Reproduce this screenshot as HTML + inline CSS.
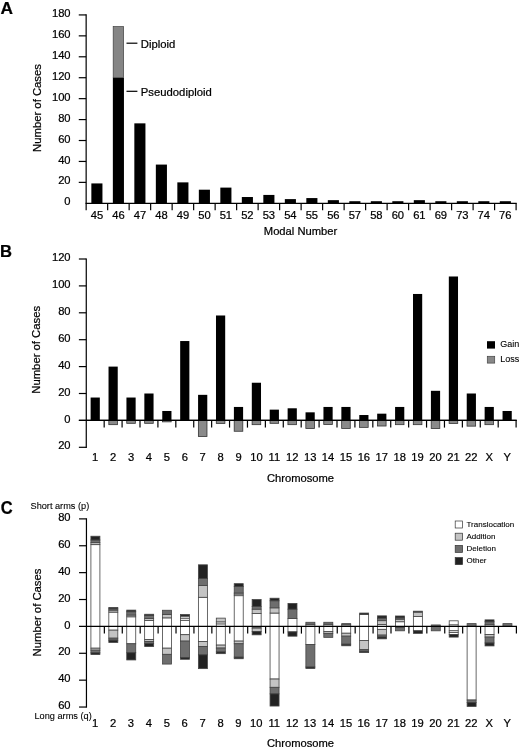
<!DOCTYPE html>
<html><head><meta charset="utf-8"><title>Figure</title>
<style>
html,body{margin:0;padding:0;background:#fff}
svg{display:block}
text{font-family:"Liberation Sans",Arial,Helvetica,sans-serif;fill:#000;stroke:#000;stroke-width:0.22px}
text.sm{stroke-width:0.1px}
</style></head><body>
<svg width="520" height="748" viewBox="0 0 520 748">
<g><rect width="520" height="748" fill="#fff"/>
<line x1="86.15" y1="14.33" x2="86.15" y2="210.2" stroke="#000" stroke-width="1.2"/>
<line x1="85.55" y1="203.3" x2="516.7" y2="203.3" stroke="#000" stroke-width="1.2"/>
<text x="70.6" y="205.4" font-size="11.2" text-anchor="end">0</text>
<line x1="78.75" y1="182.37" x2="86.15" y2="182.37" stroke="#000" stroke-width="1.2"/>
<text x="70.6" y="184.47" font-size="11.2" text-anchor="end">20</text>
<line x1="78.75" y1="161.44" x2="86.15" y2="161.44" stroke="#000" stroke-width="1.2"/>
<text x="70.6" y="163.54" font-size="11.2" text-anchor="end">40</text>
<line x1="78.75" y1="140.51" x2="86.15" y2="140.51" stroke="#000" stroke-width="1.2"/>
<text x="70.6" y="142.61" font-size="11.2" text-anchor="end">60</text>
<line x1="78.75" y1="119.58" x2="86.15" y2="119.58" stroke="#000" stroke-width="1.2"/>
<text x="70.6" y="121.68" font-size="11.2" text-anchor="end">80</text>
<line x1="78.75" y1="98.65" x2="86.15" y2="98.65" stroke="#000" stroke-width="1.2"/>
<text x="70.6" y="100.75" font-size="11.2" text-anchor="end">100</text>
<line x1="78.75" y1="77.72" x2="86.15" y2="77.72" stroke="#000" stroke-width="1.2"/>
<text x="70.6" y="79.82" font-size="11.2" text-anchor="end">120</text>
<line x1="78.75" y1="56.79" x2="86.15" y2="56.79" stroke="#000" stroke-width="1.2"/>
<text x="70.6" y="58.89" font-size="11.2" text-anchor="end">140</text>
<line x1="78.75" y1="35.86" x2="86.15" y2="35.86" stroke="#000" stroke-width="1.2"/>
<text x="70.6" y="37.96" font-size="11.2" text-anchor="end">160</text>
<line x1="78.75" y1="14.93" x2="86.15" y2="14.93" stroke="#000" stroke-width="1.2"/>
<text x="70.6" y="17.03" font-size="11.2" text-anchor="end">180</text>
<line x1="107.65" y1="203.3" x2="107.65" y2="210.2" stroke="#000" stroke-width="1.2"/>
<line x1="129.15" y1="203.3" x2="129.15" y2="210.2" stroke="#000" stroke-width="1.2"/>
<line x1="150.64" y1="203.3" x2="150.64" y2="210.2" stroke="#000" stroke-width="1.2"/>
<line x1="172.14" y1="203.3" x2="172.14" y2="210.2" stroke="#000" stroke-width="1.2"/>
<line x1="193.64" y1="203.3" x2="193.64" y2="210.2" stroke="#000" stroke-width="1.2"/>
<line x1="215.14" y1="203.3" x2="215.14" y2="210.2" stroke="#000" stroke-width="1.2"/>
<line x1="236.63" y1="203.3" x2="236.63" y2="210.2" stroke="#000" stroke-width="1.2"/>
<line x1="258.13" y1="203.3" x2="258.13" y2="210.2" stroke="#000" stroke-width="1.2"/>
<line x1="279.63" y1="203.3" x2="279.63" y2="210.2" stroke="#000" stroke-width="1.2"/>
<line x1="301.12" y1="203.3" x2="301.12" y2="210.2" stroke="#000" stroke-width="1.2"/>
<line x1="322.62" y1="203.3" x2="322.62" y2="210.2" stroke="#000" stroke-width="1.2"/>
<line x1="344.12" y1="203.3" x2="344.12" y2="210.2" stroke="#000" stroke-width="1.2"/>
<line x1="365.62" y1="203.3" x2="365.62" y2="210.2" stroke="#000" stroke-width="1.2"/>
<line x1="387.12" y1="203.3" x2="387.12" y2="210.2" stroke="#000" stroke-width="1.2"/>
<line x1="408.61" y1="203.3" x2="408.61" y2="210.2" stroke="#000" stroke-width="1.2"/>
<line x1="430.11" y1="203.3" x2="430.11" y2="210.2" stroke="#000" stroke-width="1.2"/>
<line x1="451.61" y1="203.3" x2="451.61" y2="210.2" stroke="#000" stroke-width="1.2"/>
<line x1="473.11" y1="203.3" x2="473.11" y2="210.2" stroke="#000" stroke-width="1.2"/>
<line x1="494.6" y1="203.3" x2="494.6" y2="210.2" stroke="#000" stroke-width="1.2"/>
<line x1="516.1" y1="203.3" x2="516.1" y2="210.2" stroke="#000" stroke-width="1.2"/>
<rect x="91.35" y="183.42" width="11.1" height="19.88" fill="#000"/>
<text x="96.9" y="218.6" font-size="11.2" text-anchor="middle">45</text>
<rect x="112.85" y="77.72" width="11.1" height="125.58" fill="#000"/>
<rect x="113.15" y="26.44" width="10.5" height="51.28" fill="#858585" stroke="#333" stroke-width="0.6"/>
<text x="118.4" y="218.6" font-size="11.2" text-anchor="middle">46</text>
<rect x="134.34" y="123.35" width="11.1" height="79.95" fill="#000"/>
<text x="139.89" y="218.6" font-size="11.2" text-anchor="middle">47</text>
<rect x="155.84" y="164.58" width="11.1" height="38.72" fill="#000"/>
<text x="161.39" y="218.6" font-size="11.2" text-anchor="middle">48</text>
<rect x="177.34" y="182.37" width="11.1" height="20.93" fill="#000"/>
<text x="182.89" y="218.6" font-size="11.2" text-anchor="middle">49</text>
<rect x="198.84" y="189.7" width="11.1" height="13.6" fill="#000"/>
<text x="204.39" y="218.6" font-size="11.2" text-anchor="middle">50</text>
<rect x="220.33" y="187.6" width="11.1" height="15.7" fill="#000"/>
<text x="225.88" y="218.6" font-size="11.2" text-anchor="middle">51</text>
<rect x="241.83" y="197.02" width="11.1" height="6.28" fill="#000"/>
<text x="247.38" y="218.6" font-size="11.2" text-anchor="middle">52</text>
<rect x="263.33" y="194.93" width="11.1" height="8.37" fill="#000"/>
<text x="268.88" y="218.6" font-size="11.2" text-anchor="middle">53</text>
<rect x="284.83" y="199.11" width="11.1" height="4.19" fill="#000"/>
<text x="290.38" y="218.6" font-size="11.2" text-anchor="middle">54</text>
<rect x="306.32" y="198.07" width="11.1" height="5.23" fill="#000"/>
<text x="311.87" y="218.6" font-size="11.2" text-anchor="middle">55</text>
<rect x="327.82" y="200.16" width="11.1" height="3.14" fill="#000"/>
<text x="333.37" y="218.6" font-size="11.2" text-anchor="middle">56</text>
<rect x="349.32" y="201.21" width="11.1" height="2.09" fill="#000"/>
<text x="354.87" y="218.6" font-size="11.2" text-anchor="middle">57</text>
<rect x="370.82" y="201.21" width="11.1" height="2.09" fill="#000"/>
<text x="376.37" y="218.6" font-size="11.2" text-anchor="middle">58</text>
<rect x="392.31" y="201.21" width="11.1" height="2.09" fill="#000"/>
<text x="397.86" y="218.6" font-size="11.2" text-anchor="middle">60</text>
<rect x="413.81" y="200.16" width="11.1" height="3.14" fill="#000"/>
<text x="419.36" y="218.6" font-size="11.2" text-anchor="middle">61</text>
<rect x="435.31" y="201.21" width="11.1" height="2.09" fill="#000"/>
<text x="440.86" y="218.6" font-size="11.2" text-anchor="middle">69</text>
<rect x="456.81" y="201.21" width="11.1" height="2.09" fill="#000"/>
<text x="462.36" y="218.6" font-size="11.2" text-anchor="middle">73</text>
<rect x="478.3" y="201.21" width="11.1" height="2.09" fill="#000"/>
<text x="483.85" y="218.6" font-size="11.2" text-anchor="middle">74</text>
<rect x="499.8" y="201.21" width="11.1" height="2.09" fill="#000"/>
<text x="505.35" y="218.6" font-size="11.2" text-anchor="middle">76</text>
<line x1="126.5" y1="43.2" x2="137.4" y2="43.2" stroke="#000" stroke-width="1.2"/>
<text x="140.8" y="47.5" font-size="11.3" text-anchor="start">Diploid</text>
<line x1="126.5" y1="91.3" x2="137.4" y2="91.3" stroke="#000" stroke-width="1.2"/>
<text x="140.8" y="95.5" font-size="11.3" text-anchor="start">Pseudodiploid</text>
<text x="300.5" y="235.4" font-size="11.2" text-anchor="middle">Modal Number</text>
<text x="40.5" y="108" font-size="11.3" text-anchor="middle" transform="rotate(-90 40.5 108)">Number of Cases</text>
<text x="0.5" y="13.95" font-size="17.3" text-anchor="start" font-weight="bold">A</text>
<line x1="86.27" y1="258.4" x2="86.27" y2="447.9" stroke="#000" stroke-width="1.2"/>
<line x1="78.87" y1="420.4" x2="516.7" y2="420.4" stroke="#000" stroke-width="1.2"/>
<line x1="78.87" y1="447.3" x2="86.27" y2="447.3" stroke="#000" stroke-width="1.2"/>
<text x="70.6" y="449.4" font-size="11.2" text-anchor="end">20</text>
<text x="70.6" y="422.5" font-size="11.2" text-anchor="end">0</text>
<line x1="78.87" y1="393.5" x2="86.27" y2="393.5" stroke="#000" stroke-width="1.2"/>
<text x="70.6" y="395.6" font-size="11.2" text-anchor="end">20</text>
<line x1="78.87" y1="366.6" x2="86.27" y2="366.6" stroke="#000" stroke-width="1.2"/>
<text x="70.6" y="368.7" font-size="11.2" text-anchor="end">40</text>
<line x1="78.87" y1="339.7" x2="86.27" y2="339.7" stroke="#000" stroke-width="1.2"/>
<text x="70.6" y="341.8" font-size="11.2" text-anchor="end">60</text>
<line x1="78.87" y1="312.8" x2="86.27" y2="312.8" stroke="#000" stroke-width="1.2"/>
<text x="70.6" y="314.9" font-size="11.2" text-anchor="end">80</text>
<line x1="78.87" y1="285.9" x2="86.27" y2="285.9" stroke="#000" stroke-width="1.2"/>
<text x="70.6" y="288" font-size="11.2" text-anchor="end">100</text>
<line x1="78.87" y1="259" x2="86.27" y2="259" stroke="#000" stroke-width="1.2"/>
<text x="70.6" y="261.1" font-size="11.2" text-anchor="end">120</text>
<line x1="104.18" y1="420.4" x2="104.18" y2="427.6" stroke="#000" stroke-width="1.2"/>
<line x1="122.09" y1="420.4" x2="122.09" y2="427.6" stroke="#000" stroke-width="1.2"/>
<line x1="140" y1="420.4" x2="140" y2="427.6" stroke="#000" stroke-width="1.2"/>
<line x1="157.91" y1="420.4" x2="157.91" y2="427.6" stroke="#000" stroke-width="1.2"/>
<line x1="175.82" y1="420.4" x2="175.82" y2="427.6" stroke="#000" stroke-width="1.2"/>
<line x1="193.73" y1="420.4" x2="193.73" y2="427.6" stroke="#000" stroke-width="1.2"/>
<line x1="211.64" y1="420.4" x2="211.64" y2="427.6" stroke="#000" stroke-width="1.2"/>
<line x1="229.55" y1="420.4" x2="229.55" y2="427.6" stroke="#000" stroke-width="1.2"/>
<line x1="247.46" y1="420.4" x2="247.46" y2="427.6" stroke="#000" stroke-width="1.2"/>
<line x1="265.37" y1="420.4" x2="265.37" y2="427.6" stroke="#000" stroke-width="1.2"/>
<line x1="283.28" y1="420.4" x2="283.28" y2="427.6" stroke="#000" stroke-width="1.2"/>
<line x1="301.19" y1="420.4" x2="301.19" y2="427.6" stroke="#000" stroke-width="1.2"/>
<line x1="319.09" y1="420.4" x2="319.09" y2="427.6" stroke="#000" stroke-width="1.2"/>
<line x1="337" y1="420.4" x2="337" y2="427.6" stroke="#000" stroke-width="1.2"/>
<line x1="354.91" y1="420.4" x2="354.91" y2="427.6" stroke="#000" stroke-width="1.2"/>
<line x1="372.82" y1="420.4" x2="372.82" y2="427.6" stroke="#000" stroke-width="1.2"/>
<line x1="390.73" y1="420.4" x2="390.73" y2="427.6" stroke="#000" stroke-width="1.2"/>
<line x1="408.64" y1="420.4" x2="408.64" y2="427.6" stroke="#000" stroke-width="1.2"/>
<line x1="426.55" y1="420.4" x2="426.55" y2="427.6" stroke="#000" stroke-width="1.2"/>
<line x1="444.46" y1="420.4" x2="444.46" y2="427.6" stroke="#000" stroke-width="1.2"/>
<line x1="462.37" y1="420.4" x2="462.37" y2="427.6" stroke="#000" stroke-width="1.2"/>
<line x1="480.28" y1="420.4" x2="480.28" y2="427.6" stroke="#000" stroke-width="1.2"/>
<line x1="498.19" y1="420.4" x2="498.19" y2="427.6" stroke="#000" stroke-width="1.2"/>
<line x1="516.1" y1="420.4" x2="516.1" y2="427.6" stroke="#000" stroke-width="1.2"/>
<rect x="90.62" y="397.53" width="9.2" height="23.36" fill="#000"/>
<text x="95.22" y="460.6" font-size="11.2" text-anchor="middle">1</text>
<rect x="108.83" y="420.4" width="8.6" height="4.27" fill="#8a8a8a" stroke="#333" stroke-width="0.8"/>
<rect x="108.53" y="366.6" width="9.2" height="54.3" fill="#000"/>
<text x="113.13" y="460.6" font-size="11.2" text-anchor="middle">2</text>
<rect x="126.74" y="420.4" width="8.6" height="2.93" fill="#8a8a8a" stroke="#333" stroke-width="0.8"/>
<rect x="126.44" y="397.53" width="9.2" height="23.36" fill="#000"/>
<text x="131.04" y="460.6" font-size="11.2" text-anchor="middle">3</text>
<rect x="144.65" y="420.4" width="8.6" height="2.93" fill="#8a8a8a" stroke="#333" stroke-width="0.8"/>
<rect x="144.35" y="393.5" width="9.2" height="27.4" fill="#000"/>
<text x="148.95" y="460.6" font-size="11.2" text-anchor="middle">4</text>
<rect x="162.56" y="420.4" width="8.6" height="1.45" fill="#8a8a8a" stroke="#333" stroke-width="0.8"/>
<rect x="162.26" y="410.98" width="9.2" height="9.91" fill="#000"/>
<text x="166.86" y="460.6" font-size="11.2" text-anchor="middle">5</text>
<rect x="180.17" y="341.04" width="9.2" height="79.86" fill="#000"/>
<text x="184.77" y="460.6" font-size="11.2" text-anchor="middle">6</text>
<rect x="198.38" y="420.4" width="8.6" height="16.11" fill="#8a8a8a" stroke="#333" stroke-width="0.8"/>
<rect x="198.08" y="394.84" width="9.2" height="26.05" fill="#000"/>
<text x="202.68" y="460.6" font-size="11.2" text-anchor="middle">7</text>
<rect x="216.29" y="420.4" width="8.6" height="3.06" fill="#8a8a8a" stroke="#333" stroke-width="0.8"/>
<rect x="215.99" y="315.49" width="9.2" height="105.41" fill="#000"/>
<text x="220.59" y="460.6" font-size="11.2" text-anchor="middle">8</text>
<rect x="234.2" y="420.4" width="8.6" height="10.86" fill="#8a8a8a" stroke="#333" stroke-width="0.8"/>
<rect x="233.9" y="406.95" width="9.2" height="13.95" fill="#000"/>
<text x="238.5" y="460.6" font-size="11.2" text-anchor="middle">9</text>
<rect x="252.11" y="420.4" width="8.6" height="4.27" fill="#8a8a8a" stroke="#333" stroke-width="0.8"/>
<rect x="251.81" y="382.74" width="9.2" height="38.16" fill="#000"/>
<text x="256.41" y="460.6" font-size="11.2" text-anchor="middle">10</text>
<rect x="270.02" y="420.4" width="8.6" height="2.93" fill="#8a8a8a" stroke="#333" stroke-width="0.8"/>
<rect x="269.72" y="409.64" width="9.2" height="11.26" fill="#000"/>
<text x="274.32" y="460.6" font-size="11.2" text-anchor="middle">11</text>
<rect x="287.93" y="420.4" width="8.6" height="4.27" fill="#8a8a8a" stroke="#333" stroke-width="0.8"/>
<rect x="287.63" y="408.29" width="9.2" height="12.61" fill="#000"/>
<text x="292.23" y="460.6" font-size="11.2" text-anchor="middle">12</text>
<rect x="305.84" y="420.4" width="8.6" height="8.17" fill="#8a8a8a" stroke="#333" stroke-width="0.8"/>
<rect x="305.54" y="412.33" width="9.2" height="8.57" fill="#000"/>
<text x="310.14" y="460.6" font-size="11.2" text-anchor="middle">13</text>
<rect x="323.75" y="420.4" width="8.6" height="4.14" fill="#8a8a8a" stroke="#333" stroke-width="0.8"/>
<rect x="323.45" y="406.95" width="9.2" height="13.95" fill="#000"/>
<text x="328.05" y="460.6" font-size="11.2" text-anchor="middle">14</text>
<rect x="341.66" y="420.4" width="8.6" height="8.04" fill="#8a8a8a" stroke="#333" stroke-width="0.8"/>
<rect x="341.36" y="406.95" width="9.2" height="13.95" fill="#000"/>
<text x="345.96" y="460.6" font-size="11.2" text-anchor="middle">15</text>
<rect x="359.57" y="420.4" width="8.6" height="6.96" fill="#8a8a8a" stroke="#333" stroke-width="0.8"/>
<rect x="359.27" y="415.02" width="9.2" height="5.88" fill="#000"/>
<text x="363.87" y="460.6" font-size="11.2" text-anchor="middle">16</text>
<rect x="377.48" y="420.4" width="8.6" height="5.62" fill="#8a8a8a" stroke="#333" stroke-width="0.8"/>
<rect x="377.18" y="413.67" width="9.2" height="7.22" fill="#000"/>
<text x="381.78" y="460.6" font-size="11.2" text-anchor="middle">17</text>
<rect x="395.39" y="420.4" width="8.6" height="4.27" fill="#8a8a8a" stroke="#333" stroke-width="0.8"/>
<rect x="395.09" y="406.95" width="9.2" height="13.95" fill="#000"/>
<text x="399.69" y="460.6" font-size="11.2" text-anchor="middle">18</text>
<rect x="413.3" y="420.4" width="8.6" height="4.27" fill="#8a8a8a" stroke="#333" stroke-width="0.8"/>
<rect x="413" y="293.97" width="9.2" height="126.93" fill="#000"/>
<text x="417.6" y="460.6" font-size="11.2" text-anchor="middle">19</text>
<rect x="431.21" y="420.4" width="8.6" height="8.17" fill="#8a8a8a" stroke="#333" stroke-width="0.8"/>
<rect x="430.91" y="390.81" width="9.2" height="30.09" fill="#000"/>
<text x="435.51" y="460.6" font-size="11.2" text-anchor="middle">20</text>
<rect x="449.12" y="420.4" width="8.6" height="3.06" fill="#8a8a8a" stroke="#333" stroke-width="0.8"/>
<rect x="448.82" y="276.49" width="9.2" height="144.41" fill="#000"/>
<text x="453.42" y="460.6" font-size="11.2" text-anchor="middle">21</text>
<rect x="467.03" y="420.4" width="8.6" height="5.75" fill="#8a8a8a" stroke="#333" stroke-width="0.8"/>
<rect x="466.73" y="393.5" width="9.2" height="27.4" fill="#000"/>
<text x="471.33" y="460.6" font-size="11.2" text-anchor="middle">22</text>
<rect x="484.94" y="420.4" width="8.6" height="4.27" fill="#8a8a8a" stroke="#333" stroke-width="0.8"/>
<rect x="484.64" y="406.95" width="9.2" height="13.95" fill="#000"/>
<text x="489.24" y="460.6" font-size="11.2" text-anchor="middle">X</text>
<rect x="502.55" y="410.98" width="9.2" height="9.91" fill="#000"/>
<text x="507.15" y="460.6" font-size="11.2" text-anchor="middle">Y</text>
<line x1="78.87" y1="420.4" x2="516.7" y2="420.4" stroke="#000" stroke-width="1.2"/>
<text x="300.5" y="481.9" font-size="11.2" text-anchor="middle">Chromosome</text>
<text x="40.5" y="349.8" font-size="11.3" text-anchor="middle" transform="rotate(-90 40.5 349.8)">Number of Cases</text>
<text x="0.1" y="257.4" font-size="16.6" text-anchor="start" font-weight="bold">B</text>
<rect x="487" y="341.2" width="8" height="7.4" fill="#000"/>
<text x="500.3" y="346.9" font-size="9" text-anchor="start" class="sm">Gain</text>
<rect x="487.3" y="356.3" width="7.4" height="6.8" fill="#888" stroke="#444" stroke-width="0.7"/>
<text x="500.3" y="361.8" font-size="9" text-anchor="start" class="sm">Loss</text>
<rect x="90.91" y="544.65" width="9" height="81.75" fill="#fff" stroke="#444" stroke-width="0.8"/>
<rect x="90.91" y="542.64" width="9" height="2" fill="#c4c4c4" stroke="#444" stroke-width="0.8"/>
<rect x="90.91" y="539.97" width="9" height="2.67" fill="#6e6e6e" stroke="#444" stroke-width="0.8"/>
<rect x="90.91" y="536.23" width="9" height="3.74" fill="#222" stroke="#444" stroke-width="0.8"/>
<rect x="90.91" y="626.4" width="9" height="21.79" fill="#fff" stroke="#444" stroke-width="0.8"/>
<rect x="90.91" y="648.19" width="9" height="2" fill="#c4c4c4" stroke="#444" stroke-width="0.8"/>
<rect x="90.91" y="650.19" width="9" height="2.67" fill="#6e6e6e" stroke="#444" stroke-width="0.8"/>
<rect x="90.91" y="652.86" width="9" height="1.74" fill="#222" stroke="#444" stroke-width="0.8"/>
<text x="95.11" y="727.3" font-size="11.2" text-anchor="middle">1</text>
<rect x="108.82" y="612.12" width="9" height="14.28" fill="#fff" stroke="#444" stroke-width="0.8"/>
<rect x="108.82" y="610.11" width="9" height="2" fill="#c4c4c4" stroke="#444" stroke-width="0.8"/>
<rect x="108.82" y="608.78" width="9" height="1.34" fill="#6e6e6e" stroke="#444" stroke-width="0.8"/>
<rect x="108.82" y="607.44" width="9" height="1.34" fill="#222" stroke="#444" stroke-width="0.8"/>
<rect x="108.82" y="626.4" width="9" height="3.75" fill="#fff" stroke="#444" stroke-width="0.8"/>
<rect x="108.82" y="630.15" width="9" height="8.02" fill="#c4c4c4" stroke="#444" stroke-width="0.8"/>
<rect x="108.82" y="638.17" width="9" height="2" fill="#6e6e6e" stroke="#444" stroke-width="0.8"/>
<rect x="108.82" y="640.17" width="9" height="2.27" fill="#222" stroke="#444" stroke-width="0.8"/>
<text x="113.02" y="727.3" font-size="11.2" text-anchor="middle">2</text>
<rect x="126.74" y="616.79" width="9" height="9.61" fill="#fff" stroke="#444" stroke-width="0.8"/>
<rect x="126.74" y="615.06" width="9" height="1.74" fill="#c4c4c4" stroke="#444" stroke-width="0.8"/>
<rect x="126.74" y="611.72" width="9" height="3.34" fill="#6e6e6e" stroke="#444" stroke-width="0.8"/>
<rect x="126.74" y="610.11" width="9" height="1.6" fill="#222" stroke="#444" stroke-width="0.8"/>
<rect x="126.74" y="626.4" width="9" height="17.38" fill="#fff" stroke="#444" stroke-width="0.8"/>
<rect x="126.74" y="643.78" width="9" height="8.95" fill="#6e6e6e" stroke="#444" stroke-width="0.8"/>
<rect x="126.74" y="652.73" width="9" height="7.21" fill="#222" stroke="#444" stroke-width="0.8"/>
<text x="130.94" y="727.3" font-size="11.2" text-anchor="middle">3</text>
<rect x="144.65" y="620.53" width="9" height="5.87" fill="#fff" stroke="#444" stroke-width="0.8"/>
<rect x="144.65" y="618.53" width="9" height="2" fill="#c4c4c4" stroke="#444" stroke-width="0.8"/>
<rect x="144.65" y="615.59" width="9" height="2.94" fill="#6e6e6e" stroke="#444" stroke-width="0.8"/>
<rect x="144.65" y="614.25" width="9" height="1.34" fill="#222" stroke="#444" stroke-width="0.8"/>
<rect x="144.65" y="626.4" width="9" height="13.1" fill="#fff" stroke="#444" stroke-width="0.8"/>
<rect x="144.65" y="639.5" width="9" height="2" fill="#c4c4c4" stroke="#444" stroke-width="0.8"/>
<rect x="144.65" y="641.51" width="9" height="2" fill="#6e6e6e" stroke="#444" stroke-width="0.8"/>
<rect x="144.65" y="643.51" width="9" height="3.07" fill="#222" stroke="#444" stroke-width="0.8"/>
<text x="148.85" y="727.3" font-size="11.2" text-anchor="middle">4</text>
<rect x="162.57" y="617.86" width="9" height="8.54" fill="#fff" stroke="#444" stroke-width="0.8"/>
<rect x="162.57" y="614.39" width="9" height="3.47" fill="#c4c4c4" stroke="#444" stroke-width="0.8"/>
<rect x="162.57" y="610.25" width="9" height="4.14" fill="#6e6e6e" stroke="#444" stroke-width="0.8"/>
<rect x="162.57" y="626.4" width="9" height="21.79" fill="#fff" stroke="#444" stroke-width="0.8"/>
<rect x="162.57" y="648.19" width="9" height="6.15" fill="#c4c4c4" stroke="#444" stroke-width="0.8"/>
<rect x="162.57" y="654.33" width="9" height="9.75" fill="#6e6e6e" stroke="#444" stroke-width="0.8"/>
<text x="166.77" y="727.3" font-size="11.2" text-anchor="middle">5</text>
<rect x="180.48" y="620.27" width="9" height="6.13" fill="#fff" stroke="#444" stroke-width="0.8"/>
<rect x="180.48" y="618.13" width="9" height="2.14" fill="#fff" stroke="#444" stroke-width="0.8"/>
<rect x="180.48" y="616.12" width="9" height="2" fill="#fff" stroke="#444" stroke-width="0.8"/>
<rect x="180.48" y="614.52" width="9" height="1.6" fill="#222" stroke="#444" stroke-width="0.8"/>
<rect x="180.48" y="626.4" width="9" height="8.3" fill="#fff" stroke="#444" stroke-width="0.8"/>
<rect x="180.48" y="634.7" width="9" height="6.41" fill="#c4c4c4" stroke="#444" stroke-width="0.8"/>
<rect x="180.48" y="641.11" width="9" height="16.57" fill="#6e6e6e" stroke="#444" stroke-width="0.8"/>
<rect x="180.48" y="657.67" width="9" height="1.6" fill="#222" stroke="#444" stroke-width="0.8"/>
<text x="184.68" y="727.3" font-size="11.2" text-anchor="middle">6</text>
<rect x="198.39" y="597.29" width="9" height="29.11" fill="#fff" stroke="#444" stroke-width="0.8"/>
<rect x="198.39" y="585.4" width="9" height="11.89" fill="#c4c4c4" stroke="#444" stroke-width="0.8"/>
<rect x="198.39" y="578.45" width="9" height="6.95" fill="#6e6e6e" stroke="#444" stroke-width="0.8"/>
<rect x="198.39" y="564.82" width="9" height="13.63" fill="#222" stroke="#444" stroke-width="0.8"/>
<rect x="198.39" y="626.4" width="9" height="15.11" fill="#fff" stroke="#444" stroke-width="0.8"/>
<rect x="198.39" y="641.51" width="9" height="5.08" fill="#c4c4c4" stroke="#444" stroke-width="0.8"/>
<rect x="198.39" y="646.59" width="9" height="8.28" fill="#6e6e6e" stroke="#444" stroke-width="0.8"/>
<rect x="198.39" y="654.87" width="9" height="13.76" fill="#222" stroke="#444" stroke-width="0.8"/>
<text x="202.59" y="727.3" font-size="11.2" text-anchor="middle">7</text>
<rect x="216.31" y="623.87" width="9" height="2.53" fill="#fff" stroke="#444" stroke-width="0.8"/>
<rect x="216.31" y="621.87" width="9" height="2" fill="#fff" stroke="#444" stroke-width="0.8"/>
<rect x="216.31" y="618.13" width="9" height="3.74" fill="#c4c4c4" stroke="#444" stroke-width="0.8"/>
<rect x="216.31" y="626.4" width="9" height="18.72" fill="#fff" stroke="#444" stroke-width="0.8"/>
<rect x="216.31" y="645.12" width="9" height="2.94" fill="#c4c4c4" stroke="#444" stroke-width="0.8"/>
<rect x="216.31" y="648.06" width="9" height="3.87" fill="#6e6e6e" stroke="#444" stroke-width="0.8"/>
<rect x="216.31" y="651.93" width="9" height="1.74" fill="#222" stroke="#444" stroke-width="0.8"/>
<text x="220.51" y="727.3" font-size="11.2" text-anchor="middle">8</text>
<rect x="234.22" y="595.68" width="9" height="30.72" fill="#fff" stroke="#444" stroke-width="0.8"/>
<rect x="234.22" y="594.08" width="9" height="1.6" fill="#fff" stroke="#444" stroke-width="0.8"/>
<rect x="234.22" y="593.01" width="9" height="1.07" fill="#fff" stroke="#444" stroke-width="0.8"/>
<rect x="234.22" y="586.6" width="9" height="6.41" fill="#6e6e6e" stroke="#444" stroke-width="0.8"/>
<rect x="234.22" y="583.66" width="9" height="2.94" fill="#222" stroke="#444" stroke-width="0.8"/>
<rect x="234.22" y="626.4" width="9" height="14.71" fill="#fff" stroke="#444" stroke-width="0.8"/>
<rect x="234.22" y="641.11" width="9" height="2.67" fill="#c4c4c4" stroke="#444" stroke-width="0.8"/>
<rect x="234.22" y="643.78" width="9" height="13.36" fill="#6e6e6e" stroke="#444" stroke-width="0.8"/>
<rect x="234.22" y="657.14" width="9" height="1.6" fill="#222" stroke="#444" stroke-width="0.8"/>
<text x="238.42" y="727.3" font-size="11.2" text-anchor="middle">9</text>
<rect x="252.14" y="613.59" width="9" height="12.81" fill="#fff" stroke="#444" stroke-width="0.8"/>
<rect x="252.14" y="609.18" width="9" height="4.41" fill="#c4c4c4" stroke="#444" stroke-width="0.8"/>
<rect x="252.14" y="606.51" width="9" height="2.67" fill="#6e6e6e" stroke="#444" stroke-width="0.8"/>
<rect x="252.14" y="599.56" width="9" height="6.95" fill="#222" stroke="#444" stroke-width="0.8"/>
<rect x="252.14" y="626.4" width="9" height="1.75" fill="#6e6e6e" stroke="#444" stroke-width="0.8"/>
<rect x="252.14" y="628.15" width="9" height="3.34" fill="#c4c4c4" stroke="#444" stroke-width="0.8"/>
<rect x="252.14" y="631.49" width="9" height="3.34" fill="#222" stroke="#444" stroke-width="0.8"/>
<text x="256.34" y="727.3" font-size="11.2" text-anchor="middle">10</text>
<rect x="270.05" y="613.05" width="9" height="13.35" fill="#fff" stroke="#444" stroke-width="0.8"/>
<rect x="270.05" y="607.84" width="9" height="5.21" fill="#c4c4c4" stroke="#444" stroke-width="0.8"/>
<rect x="270.05" y="600.76" width="9" height="7.08" fill="#6e6e6e" stroke="#444" stroke-width="0.8"/>
<rect x="270.05" y="598.22" width="9" height="2.54" fill="#222" stroke="#444" stroke-width="0.8"/>
<rect x="270.05" y="626.4" width="9" height="52.65" fill="#fff" stroke="#444" stroke-width="0.8"/>
<rect x="270.05" y="679.05" width="9" height="8.28" fill="#c4c4c4" stroke="#444" stroke-width="0.8"/>
<rect x="270.05" y="687.33" width="9" height="6.55" fill="#6e6e6e" stroke="#444" stroke-width="0.8"/>
<rect x="270.05" y="693.88" width="9" height="12.16" fill="#222" stroke="#444" stroke-width="0.8"/>
<text x="274.25" y="727.3" font-size="11.2" text-anchor="middle">11</text>
<rect x="287.97" y="618.4" width="9" height="8" fill="#fff" stroke="#444" stroke-width="0.8"/>
<rect x="287.97" y="609.18" width="9" height="9.22" fill="#6e6e6e" stroke="#444" stroke-width="0.8"/>
<rect x="287.97" y="603.43" width="9" height="5.74" fill="#222" stroke="#444" stroke-width="0.8"/>
<rect x="287.97" y="626.4" width="9" height="5.49" fill="#fff" stroke="#444" stroke-width="0.8"/>
<rect x="287.97" y="631.89" width="9" height="4.28" fill="#222" stroke="#444" stroke-width="0.8"/>
<text x="292.17" y="727.3" font-size="11.2" text-anchor="middle">12</text>
<rect x="305.88" y="624.27" width="9" height="2.13" fill="#c4c4c4" stroke="#444" stroke-width="0.8"/>
<rect x="305.88" y="622.27" width="9" height="2" fill="#6e6e6e" stroke="#444" stroke-width="0.8"/>
<rect x="305.88" y="626.4" width="9" height="18.05" fill="#fff" stroke="#444" stroke-width="0.8"/>
<rect x="305.88" y="644.45" width="9" height="22.58" fill="#6e6e6e" stroke="#444" stroke-width="0.8"/>
<rect x="305.88" y="667.03" width="9" height="1.47" fill="#222" stroke="#444" stroke-width="0.8"/>
<text x="310.08" y="727.3" font-size="11.2" text-anchor="middle">13</text>
<rect x="323.8" y="624.27" width="9" height="2.13" fill="#c4c4c4" stroke="#444" stroke-width="0.8"/>
<rect x="323.8" y="622.27" width="9" height="2" fill="#6e6e6e" stroke="#444" stroke-width="0.8"/>
<rect x="323.8" y="626.4" width="9" height="5.09" fill="#fff" stroke="#444" stroke-width="0.8"/>
<rect x="323.8" y="631.49" width="9" height="1.87" fill="#c4c4c4" stroke="#444" stroke-width="0.8"/>
<rect x="323.8" y="633.36" width="9" height="4.01" fill="#6e6e6e" stroke="#444" stroke-width="0.8"/>
<text x="328" y="727.3" font-size="11.2" text-anchor="middle">14</text>
<rect x="341.71" y="624.81" width="9" height="1.59" fill="#c4c4c4" stroke="#444" stroke-width="0.8"/>
<rect x="341.71" y="623.61" width="9" height="1.2" fill="#6e6e6e" stroke="#444" stroke-width="0.8"/>
<rect x="341.71" y="626.4" width="9" height="6.83" fill="#fff" stroke="#444" stroke-width="0.8"/>
<rect x="341.71" y="633.23" width="9" height="2.94" fill="#c4c4c4" stroke="#444" stroke-width="0.8"/>
<rect x="341.71" y="636.16" width="9" height="8.02" fill="#6e6e6e" stroke="#444" stroke-width="0.8"/>
<rect x="341.71" y="644.18" width="9" height="1.6" fill="#222" stroke="#444" stroke-width="0.8"/>
<text x="345.91" y="727.3" font-size="11.2" text-anchor="middle">15</text>
<rect x="359.63" y="614.39" width="9" height="12.01" fill="#fff" stroke="#444" stroke-width="0.8"/>
<rect x="359.63" y="613.05" width="9" height="1.34" fill="#222" stroke="#444" stroke-width="0.8"/>
<rect x="359.63" y="626.4" width="9" height="14.04" fill="#fff" stroke="#444" stroke-width="0.8"/>
<rect x="359.63" y="640.44" width="9" height="9.22" fill="#c4c4c4" stroke="#444" stroke-width="0.8"/>
<rect x="359.63" y="649.66" width="9" height="1.6" fill="#6e6e6e" stroke="#444" stroke-width="0.8"/>
<rect x="359.63" y="651.26" width="9" height="1.34" fill="#222" stroke="#444" stroke-width="0.8"/>
<text x="363.83" y="727.3" font-size="11.2" text-anchor="middle">16</text>
<rect x="377.54" y="624.54" width="9" height="1.86" fill="#fff" stroke="#444" stroke-width="0.8"/>
<rect x="377.54" y="620.67" width="9" height="3.87" fill="#c4c4c4" stroke="#444" stroke-width="0.8"/>
<rect x="377.54" y="618.13" width="9" height="2.54" fill="#6e6e6e" stroke="#444" stroke-width="0.8"/>
<rect x="377.54" y="615.86" width="9" height="2.27" fill="#222" stroke="#444" stroke-width="0.8"/>
<rect x="377.54" y="626.4" width="9" height="2.95" fill="#fff" stroke="#444" stroke-width="0.8"/>
<rect x="377.54" y="629.35" width="9" height="5.74" fill="#c4c4c4" stroke="#444" stroke-width="0.8"/>
<rect x="377.54" y="635.1" width="9" height="1.87" fill="#6e6e6e" stroke="#444" stroke-width="0.8"/>
<rect x="377.54" y="636.97" width="9" height="1.87" fill="#222" stroke="#444" stroke-width="0.8"/>
<text x="381.74" y="727.3" font-size="11.2" text-anchor="middle">17</text>
<rect x="395.46" y="621.74" width="9" height="4.66" fill="#fff" stroke="#444" stroke-width="0.8"/>
<rect x="395.46" y="619.2" width="9" height="2.54" fill="#c4c4c4" stroke="#444" stroke-width="0.8"/>
<rect x="395.46" y="617.86" width="9" height="1.34" fill="#6e6e6e" stroke="#444" stroke-width="0.8"/>
<rect x="395.46" y="615.99" width="9" height="1.87" fill="#222" stroke="#444" stroke-width="0.8"/>
<rect x="395.46" y="626.4" width="9" height="1.08" fill="#fff" stroke="#444" stroke-width="0.8"/>
<rect x="395.46" y="627.48" width="9" height="3.34" fill="#6e6e6e" stroke="#444" stroke-width="0.8"/>
<text x="399.66" y="727.3" font-size="11.2" text-anchor="middle">18</text>
<rect x="413.37" y="616.53" width="9" height="9.87" fill="#fff" stroke="#444" stroke-width="0.8"/>
<rect x="413.37" y="612.12" width="9" height="4.41" fill="#c4c4c4" stroke="#444" stroke-width="0.8"/>
<rect x="413.37" y="611.18" width="9" height="0.94" fill="#6e6e6e" stroke="#444" stroke-width="0.8"/>
<rect x="413.37" y="626.4" width="9" height="4.42" fill="#fff" stroke="#444" stroke-width="0.8"/>
<rect x="413.37" y="630.82" width="9" height="2.54" fill="#222" stroke="#444" stroke-width="0.8"/>
<text x="417.57" y="727.3" font-size="11.2" text-anchor="middle">19</text>
<rect x="431.28" y="624.94" width="9" height="1.46" fill="#6e6e6e" stroke="#444" stroke-width="0.8"/>
<rect x="431.28" y="626.4" width="9" height="4.42" fill="#6e6e6e" stroke="#444" stroke-width="0.8"/>
<text x="435.48" y="727.3" font-size="11.2" text-anchor="middle">20</text>
<rect x="449.2" y="624.81" width="9" height="1.59" fill="#fff" stroke="#444" stroke-width="0.8"/>
<rect x="449.2" y="620.8" width="9" height="4.01" fill="#fff" stroke="#444" stroke-width="0.8"/>
<rect x="449.2" y="626.4" width="9" height="4.42" fill="#fff" stroke="#444" stroke-width="0.8"/>
<rect x="449.2" y="630.82" width="9" height="1.6" fill="#fff" stroke="#444" stroke-width="0.8"/>
<rect x="449.2" y="632.42" width="9" height="2.14" fill="#fff" stroke="#444" stroke-width="0.8"/>
<rect x="449.2" y="634.56" width="9" height="2.54" fill="#222" stroke="#444" stroke-width="0.8"/>
<text x="453.4" y="727.3" font-size="11.2" text-anchor="middle">21</text>
<rect x="467.11" y="623.61" width="9" height="2.79" fill="#6e6e6e" stroke="#444" stroke-width="0.8"/>
<rect x="467.11" y="626.4" width="9" height="73.63" fill="#fff" stroke="#444" stroke-width="0.8"/>
<rect x="467.11" y="700.03" width="9" height="2.54" fill="#6e6e6e" stroke="#444" stroke-width="0.8"/>
<rect x="467.11" y="702.56" width="9" height="3.87" fill="#222" stroke="#444" stroke-width="0.8"/>
<text x="471.31" y="727.3" font-size="11.2" text-anchor="middle">22</text>
<rect x="485.03" y="624.68" width="9" height="1.72" fill="#c4c4c4" stroke="#444" stroke-width="0.8"/>
<rect x="485.03" y="621.74" width="9" height="2.94" fill="#6e6e6e" stroke="#444" stroke-width="0.8"/>
<rect x="485.03" y="619.87" width="9" height="1.87" fill="#222" stroke="#444" stroke-width="0.8"/>
<rect x="485.03" y="626.4" width="9" height="8.16" fill="#fff" stroke="#444" stroke-width="0.8"/>
<rect x="485.03" y="634.56" width="9" height="2.54" fill="#c4c4c4" stroke="#444" stroke-width="0.8"/>
<rect x="485.03" y="637.1" width="9" height="5.88" fill="#6e6e6e" stroke="#444" stroke-width="0.8"/>
<rect x="485.03" y="642.98" width="9" height="2.94" fill="#222" stroke="#444" stroke-width="0.8"/>
<text x="489.23" y="727.3" font-size="11.2" text-anchor="middle">X</text>
<rect x="502.94" y="623.61" width="9" height="2.79" fill="#6e6e6e" stroke="#444" stroke-width="0.8"/>
<text x="507.14" y="727.3" font-size="11.2" text-anchor="middle">Y</text>
<line x1="86.45" y1="518.28" x2="86.45" y2="707.64" stroke="#000" stroke-width="1.2"/>
<line x1="79.05" y1="626.4" x2="517" y2="626.4" stroke="#000" stroke-width="1.2"/>
<line x1="79.05" y1="707.04" x2="86.45" y2="707.04" stroke="#000" stroke-width="1.2"/>
<text x="70.6" y="709.14" font-size="11.2" text-anchor="end">60</text>
<line x1="79.05" y1="680.16" x2="86.45" y2="680.16" stroke="#000" stroke-width="1.2"/>
<text x="70.6" y="682.26" font-size="11.2" text-anchor="end">40</text>
<line x1="79.05" y1="653.28" x2="86.45" y2="653.28" stroke="#000" stroke-width="1.2"/>
<text x="70.6" y="655.38" font-size="11.2" text-anchor="end">20</text>
<text x="70.6" y="628.5" font-size="11.2" text-anchor="end">0</text>
<line x1="79.05" y1="599.52" x2="86.45" y2="599.52" stroke="#000" stroke-width="1.2"/>
<text x="70.6" y="601.62" font-size="11.2" text-anchor="end">20</text>
<line x1="79.05" y1="572.64" x2="86.45" y2="572.64" stroke="#000" stroke-width="1.2"/>
<text x="70.6" y="574.74" font-size="11.2" text-anchor="end">40</text>
<line x1="79.05" y1="545.76" x2="86.45" y2="545.76" stroke="#000" stroke-width="1.2"/>
<text x="70.6" y="547.86" font-size="11.2" text-anchor="end">60</text>
<line x1="79.05" y1="518.88" x2="86.45" y2="518.88" stroke="#000" stroke-width="1.2"/>
<text x="70.6" y="520.98" font-size="11.2" text-anchor="end">80</text>
<line x1="104.36" y1="626.4" x2="104.36" y2="633.6" stroke="#000" stroke-width="1.2"/>
<line x1="122.28" y1="626.4" x2="122.28" y2="633.6" stroke="#000" stroke-width="1.2"/>
<line x1="140.19" y1="626.4" x2="140.19" y2="633.6" stroke="#000" stroke-width="1.2"/>
<line x1="158.11" y1="626.4" x2="158.11" y2="633.6" stroke="#000" stroke-width="1.2"/>
<line x1="176.02" y1="626.4" x2="176.02" y2="633.6" stroke="#000" stroke-width="1.2"/>
<line x1="193.94" y1="626.4" x2="193.94" y2="633.6" stroke="#000" stroke-width="1.2"/>
<line x1="211.85" y1="626.4" x2="211.85" y2="633.6" stroke="#000" stroke-width="1.2"/>
<line x1="229.77" y1="626.4" x2="229.77" y2="633.6" stroke="#000" stroke-width="1.2"/>
<line x1="247.68" y1="626.4" x2="247.68" y2="633.6" stroke="#000" stroke-width="1.2"/>
<line x1="265.6" y1="626.4" x2="265.6" y2="633.6" stroke="#000" stroke-width="1.2"/>
<line x1="283.51" y1="626.4" x2="283.51" y2="633.6" stroke="#000" stroke-width="1.2"/>
<line x1="301.43" y1="626.4" x2="301.43" y2="633.6" stroke="#000" stroke-width="1.2"/>
<line x1="319.34" y1="626.4" x2="319.34" y2="633.6" stroke="#000" stroke-width="1.2"/>
<line x1="337.25" y1="626.4" x2="337.25" y2="633.6" stroke="#000" stroke-width="1.2"/>
<line x1="355.17" y1="626.4" x2="355.17" y2="633.6" stroke="#000" stroke-width="1.2"/>
<line x1="373.08" y1="626.4" x2="373.08" y2="633.6" stroke="#000" stroke-width="1.2"/>
<line x1="391" y1="626.4" x2="391" y2="633.6" stroke="#000" stroke-width="1.2"/>
<line x1="408.91" y1="626.4" x2="408.91" y2="633.6" stroke="#000" stroke-width="1.2"/>
<line x1="426.83" y1="626.4" x2="426.83" y2="633.6" stroke="#000" stroke-width="1.2"/>
<line x1="444.74" y1="626.4" x2="444.74" y2="633.6" stroke="#000" stroke-width="1.2"/>
<line x1="462.66" y1="626.4" x2="462.66" y2="633.6" stroke="#000" stroke-width="1.2"/>
<line x1="480.57" y1="626.4" x2="480.57" y2="633.6" stroke="#000" stroke-width="1.2"/>
<line x1="498.49" y1="626.4" x2="498.49" y2="633.6" stroke="#000" stroke-width="1.2"/>
<line x1="516.4" y1="626.4" x2="516.4" y2="633.6" stroke="#000" stroke-width="1.2"/>
<text x="300.5" y="746.5" font-size="11.2" text-anchor="middle">Chromosome</text>
<text x="40.5" y="612.5" font-size="11.3" text-anchor="middle" transform="rotate(-90 40.5 612.5)">Number of Cases</text>
<text transform="translate(0.8 513.8) scale(1 1.09)" font-size="16.5" font-weight="bold">C</text>
<text x="30.5" y="508.5" font-size="9.2" text-anchor="start" class="sm">Short arms (p)</text>
<text x="34.5" y="718.7" font-size="9.2" text-anchor="start" class="sm">Long arms (q)</text>
<rect x="455.2" y="521" width="7.4" height="7" fill="#fff" stroke="#333" stroke-width="0.7"/>
<text x="466.5" y="526.6" font-size="8" text-anchor="start" class="sm">Translocation</text>
<rect x="455.2" y="533.2" width="7.4" height="7" fill="#c4c4c4" stroke="#333" stroke-width="0.7"/>
<text x="466.5" y="538.8" font-size="8" text-anchor="start" class="sm">Addition</text>
<rect x="455.2" y="545.4" width="7.4" height="7" fill="#6e6e6e" stroke="#333" stroke-width="0.7"/>
<text x="466.5" y="551" font-size="8" text-anchor="start" class="sm">Deletion</text>
<rect x="455.2" y="557.6" width="7.4" height="7" fill="#222" stroke="#333" stroke-width="0.7"/>
<text x="466.5" y="563.2" font-size="8" text-anchor="start" class="sm">Other</text>
</g>
</svg>
</body></html>
